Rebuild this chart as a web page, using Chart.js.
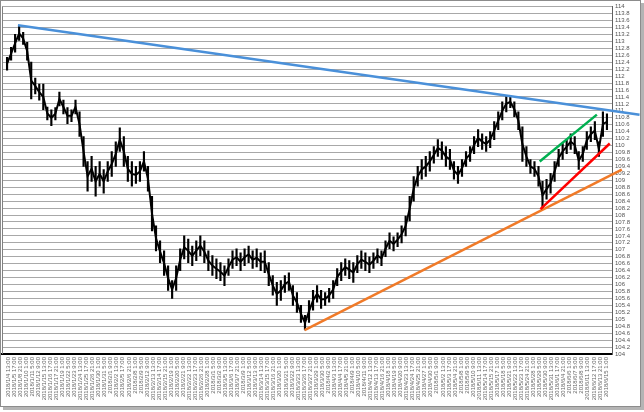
<!DOCTYPE html>
<html>
<head>
<meta charset="utf-8">
<script src="https://cdn.jsdelivr.net/npm/chart.js@4"></script>
<style>
  html, body { margin: 0; padding: 0; background: #fff; }
  #wrap { width: 644px; height: 412px; position: relative; }
</style>
</head>
<body>
<div id="wrap"><canvas id="chart" width="644" height="412"></canvas></div>
<script>
// tick labels along the bottom (every 28 trading hours)
const timeLabels = [
  "2018/1/4 13:00","2018/1/5 17:00","2018/1/8 21:00","2018/1/10 1:00","2018/1/11 5:00","2018/1/12 9:00",
  "2018/1/15 13:00","2018/1/16 17:00","2018/1/17 21:00","2018/1/19 1:00","2018/1/22 5:00","2018/1/23 9:00",
  "2018/1/24 13:00","2018/1/25 17:00","2018/1/26 21:00","2018/1/30 1:00","2018/1/31 5:00","2018/2/1 9:00",
  "2018/2/2 13:00","2018/2/5 17:00","2018/2/6 21:00","2018/2/8 1:00","2018/2/9 5:00","2018/2/12 9:00",
  "2018/2/13 13:00","2018/2/14 17:00","2018/2/15 21:00","2018/2/19 1:00","2018/2/20 5:00","2018/2/21 9:00",
  "2018/2/22 13:00","2018/2/23 17:00","2018/2/26 21:00","2018/2/28 1:00","2018/3/1 5:00","2018/3/2 9:00",
  "2018/3/5 13:00","2018/3/6 17:00","2018/3/7 21:00","2018/3/9 1:00","2018/3/12 5:00","2018/3/13 9:00",
  "2018/3/14 13:00","2018/3/15 17:00","2018/3/16 21:00","2018/3/20 1:00","2018/3/21 5:00","2018/3/22 9:00",
  "2018/3/23 13:00","2018/3/26 17:00","2018/3/27 21:00","2018/3/29 1:00","2018/3/30 5:00","2018/4/2 9:00",
  "2018/4/3 13:00","2018/4/4 17:00","2018/4/5 21:00","2018/4/9 1:00","2018/4/10 5:00","2018/4/11 9:00",
  "2018/4/12 13:00","2018/4/13 17:00","2018/4/16 21:00","2018/4/18 1:00","2018/4/19 5:00","2018/4/20 9:00",
  "2018/4/23 13:00","2018/4/24 17:00","2018/4/25 21:00","2018/4/27 1:00","2018/4/30 5:00","2018/5/1 9:00",
  "2018/5/2 13:00","2018/5/3 17:00","2018/5/4 21:00","2018/5/8 1:00","2018/5/9 5:00","2018/5/10 9:00",
  "2018/5/11 13:00","2018/5/14 17:00","2018/5/15 21:00","2018/5/17 1:00","2018/5/18 5:00","2018/5/21 9:00",
  "2018/5/22 13:00","2018/5/23 17:00","2018/5/24 21:00","2018/5/28 1:00","2018/5/29 5:00","2018/5/30 9:00",
  "2018/5/31 13:00","2018/6/1 17:00","2018/6/4 21:00","2018/6/6 1:00","2018/6/7 5:00","2018/6/8 9:00",
  "2018/6/11 13:00","2018/6/12 17:00","2018/6/13 21:00","2018/6/15 1:00"
];

// price range per time slot
const highs = [
  112.54,112.83,113.20,113.43,113.26,112.97,112.40,111.94,111.77,111.77,
  111.11,111.03,111.09,111.54,111.31,111.09,111.03,111.31,110.97,110.26,
  109.54,109.69,109.40,109.54,109.31,109.54,109.83,110.11,110.51,110.26,
  109.69,109.54,109.40,109.54,109.83,109.40,108.54,107.69,107.26,106.97,
  106.54,106.11,106.54,107.03,107.40,107.31,107.11,107.26,107.40,107.26,
  106.97,106.83,106.74,106.63,106.54,106.74,106.97,107.03,106.91,107.03,
  107.11,106.97,107.03,106.91,106.97,106.63,106.26,106.06,106.11,106.26,
  106.34,105.97,105.77,105.40,105.11,105.54,105.83,105.97,105.83,105.77,
  105.89,106.11,106.46,106.63,106.74,106.69,106.63,106.83,106.97,106.91,
  106.80,106.91,107.03,106.97,107.26,107.49,107.37,107.49,107.69,107.97,
  108.54,109.11,109.40,109.60,109.69,109.83,109.97,110.17,110.11,109.97,
  109.89,109.54,109.40,109.60,109.83,109.97,110.26,110.46,110.34,110.26,
  110.40,110.69,110.97,111.26,111.43,111.43,111.26,110.97,110.54,109.97,
  109.60,109.54,109.40,108.97,109.03,109.20,109.54,109.89,110.06,110.17,
  110.34,110.26,109.83,109.97,110.40,110.54,110.69,110.11,110.97,110.91
];
const lows = [
  112.17,112.46,112.69,113.03,112.91,112.46,111.34,111.49,111.31,111.03,
  110.74,110.57,110.74,111.14,110.91,110.63,110.69,110.91,110.26,109.40,
  108.69,108.97,108.54,108.83,108.63,108.97,109.11,109.40,109.83,109.40,
  108.97,108.83,108.91,108.97,109.26,108.69,107.54,106.97,106.63,106.26,
  105.83,105.60,105.83,106.40,106.74,106.63,106.54,106.69,106.83,106.63,
  106.40,106.26,106.17,106.11,105.97,106.26,106.46,106.54,106.40,106.54,
  106.63,106.46,106.51,106.40,106.34,105.97,105.69,105.40,105.54,105.77,
  105.83,105.40,105.20,104.91,104.69,104.91,105.26,105.49,105.31,105.40,
  105.49,105.60,105.97,106.11,106.26,106.17,106.06,106.34,106.46,106.40,
  106.34,106.46,106.63,106.54,106.80,107.03,106.97,107.09,107.20,107.40,
  107.83,108.40,108.83,109.03,109.11,109.26,109.49,109.69,109.60,109.40,
  109.31,109.03,108.91,109.11,109.40,109.54,109.77,109.97,109.89,109.83,
  109.94,110.17,110.46,110.74,110.97,111.09,110.83,110.46,109.54,109.40,
  109.20,109.11,108.83,108.17,108.46,108.63,108.97,109.40,109.60,109.77,
  109.89,109.77,109.31,109.54,109.89,110.11,110.17,109.69,110.26,110.46
];

// trend lines: [x slot, price]
const blueLine   = [[3.2, 113.46], [157.6, 110.89]];
const orangeLine = [[74.4, 104.69], [153.2, 109.31]];
const redLine    = [[133.0, 108.17], [150.2, 110.06]];
const greenLine  = [[132.8, 109.54], [147.0, 110.89]];

const yMin = 104, yMax = 114, yStep = 0.2;

const slots = highs.length;
const labelStep = slots / timeLabels.length;

function toXY(pts) {
  return pts.map(p => ({ x: p[0], y: p[1] }));
}

function trend(pts, color) {
  return {
    type: "line",
    data: toXY(pts),
    borderColor: color,
    borderWidth: 2.5,
    pointRadius: 0,
    clip: false,
    order: 0
  };
}

const frame = {
  id: "frame",
  afterDraw(chart) {
    const ctx = chart.ctx;
    const a = chart.chartArea;
    ctx.save();
    ctx.strokeStyle = "#808080";
    ctx.lineWidth = 1;
    ctx.beginPath();
    ctx.moveTo(a.left + 0.5, a.top);
    ctx.lineTo(a.left + 0.5, a.bottom);
    ctx.stroke();
    // outer frame with a small shadow
    ctx.strokeStyle = "#8c8c8c";
    ctx.strokeRect(0.5, 0.5, 640, 406);
    ctx.fillStyle = "#b4b4b4";
    ctx.fillRect(641, 3, 3, 407);
    ctx.fillRect(3, 407, 641, 3);
    ctx.restore();
  }
};

const chart = new Chart(document.getElementById("chart"), {
  data: {
    datasets: [
      trend(blueLine, "#4a90d9"),
      trend(greenLine, "#00b050"),
      trend(redLine, "#ff0000"),
      trend(orangeLine, "#f07a28"),
      {
        // middle of each slot's range, joined
        type: "line",
        data: highs.map((h, i) => ({ x: i + 0.5, y: (h + lows[i]) / 2 })),
        borderColor: "#000",
        borderWidth: 2,
        pointRadius: 0,
        order: 9
      },
      {
        // high-low wicks
        type: "bar",
        data: highs.map((h, i) => ({ x: i + 0.5, y: [lows[i], h] })),
        backgroundColor: "#000",
        borderWidth: 0,
        barThickness: 1.5,
        order: 10
      }
    ]
  },
  options: {
    responsive: false,
    animation: false,
    layout: { padding: { left: 2, top: 3 } },
    plugins: { legend: { display: false }, tooltip: { enabled: false } },
    scales: {
      x: {
        type: "linear",
        min: 0,
        max: slots,
        grid: { display: false, drawTicks: false },
        border: { display: true, color: "#000", width: 2 },
        afterBuildTicks: scale => {
          scale.ticks = timeLabels.map((_, k) => ({ value: (k + 0.5) * labelStep }));
        },
        afterFit: scale => { scale.height = 58; },
        ticks: {
          autoSkip: false,
          maxRotation: 90,
          minRotation: 90,
          padding: 3,
          color: "#666",
          font: { family: "Liberation Sans, Arial, sans-serif", size: 6 },
          callback: (v, i) => timeLabels[i]
        }
      },
      y: {
        position: "right",
        min: yMin,
        max: yMax,
        grid: { color: "#a8a8a8", lineWidth: 1, drawTicks: false },
        border: { display: true, color: "#606060", width: 1 },
        afterFit: scale => { scale.width = 32; },
        ticks: {
          stepSize: yStep,
          autoSkip: false,
          padding: 3,
          color: "#555",
          font: { family: "Liberation Sans, Arial, sans-serif", size: 6 },
          callback: v => String(+v.toFixed(1))
        }
      }
    }
  },
  plugins: [frame]
});
</script>
</body>
</html>
